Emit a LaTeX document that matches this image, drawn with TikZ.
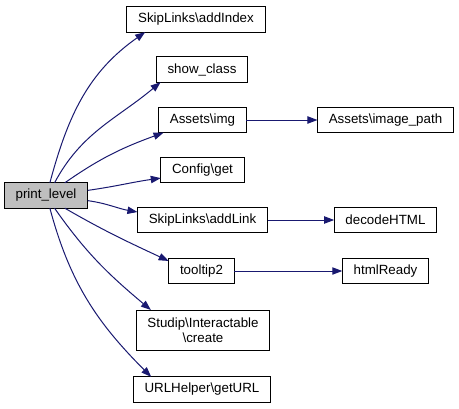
\documentclass[tikz,border=0pt]{standalone}
\usepackage{fontspec}
\setmainfont{Liberation Sans}
\usepackage{xcolor}
\usetikzlibrary{arrows.meta,positioning,calc}
\definecolor{edgeblue}{HTML}{191970}

\begin{document}
\begin{tikzpicture}[x=0.75pt,y=0.75pt,
    fn/.style={draw, fill=white, inner xsep=8.5pt, inner ysep=0pt, minimum height=19pt, outer sep=0pt, font=\fontsize{10}{11.5}\selectfont, line width=0.75pt},
    hl/.style={fn, fill=black!25},
    call/.style={-{Triangle[length=7.5pt,width=5.5pt]}, draw=edgeblue, line width=0.75pt}]
    \useasboundingbox (0,0) rectangle (459,408);
    % caller
    \node[hl] (pl) at (46,212.5) {print\_level};
    % direct callees
    \node[fn] (addIndex) at (196,388.5) {SkipLinks\textbackslash addIndex};
    \node[fn] (showclass) at (202,338.5) {show\_class};
    \node[fn] (img) at (202.5,288) {Assets\textbackslash img};
    \node[fn] (get) at (202.5,238) {Config\textbackslash get};
    \node[fn] (addLink) at (202.5,188) {SkipLinks\textbackslash addLink};
    \node[fn] (tooltip) at (201.5,137) {tooltip2};
    \node[fn, align=center, minimum height=30pt] (create) at (203,78) {Studip\textbackslash Interactable\\\textbackslash create};
    \node[fn] (geturl) at (202,18.5) {URLHelper\textbackslash getURL};
    % second level
    \node[fn] (imagepath) at (385.5,288) {Assets\textbackslash image\_path};
    \node[fn] (decode) at (385.5,188) {decodeHTML};
    \node[fn] (ready) at (385.5,137) {htmlReady};
    % edges
    \draw[call] (pl.73) to[out=75,in=215] (addIndex.194);
    \draw[call] (pl.56) to[out=62,in=220] (showclass.197);
    \draw[call] (pl.34) to[out=35,in=200] (img.198);
    \draw[call] (pl.7) to[out=8,in=188] (get.191);
    \draw[call] (pl.-7) to[out=-8,in=170] (addLink.173);
    \draw[call] (pl.-34) to[out=-30,in=155] (tooltip.163);
    \draw[call] (pl.-56) to[out=-55,in=140] (create.159);
    \draw[call] (pl.-73) to[out=-75,in=135] (geturl.166);
    \draw[call] (img) -- (imagepath);
    \draw[call] (addLink) -- (decode);
    \draw[call] (tooltip) -- (ready);
\end{tikzpicture}
\end{document}
